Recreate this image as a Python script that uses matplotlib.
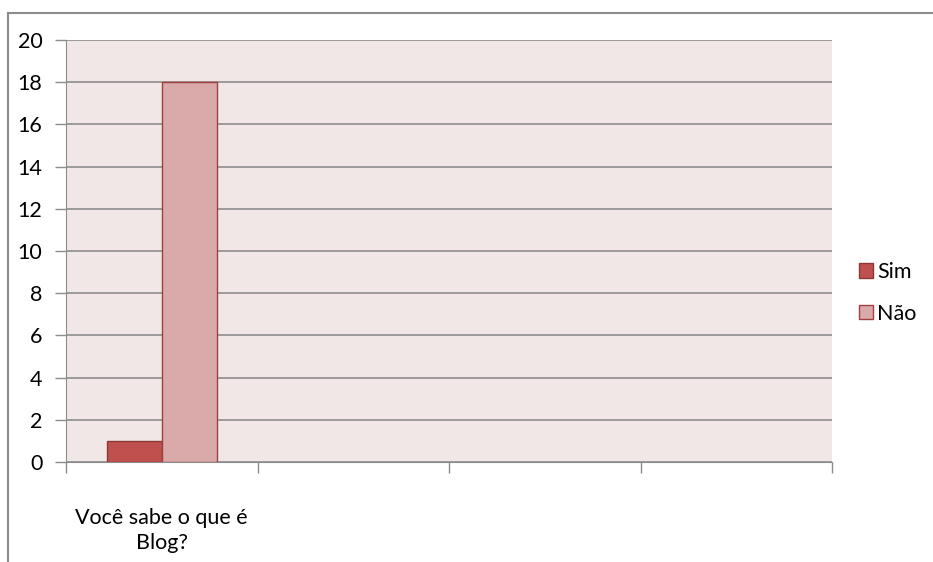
import numpy as np
import matplotlib.pyplot as plt
from matplotlib.lines import Line2D

# chart data
categories = ['Você sabe o que é\nBlog?', '', '', '']
sim = [1, np.nan, np.nan, np.nan]
nao = [18, np.nan, np.nan, np.nan]
series_names = ['Sim', 'Não']
y_ticks = [0, 2, 4, 6, 8, 10, 12, 14, 16, 18, 20]

plt.rcParams['font.family'] = ['Lato', 'DejaVu Sans']
FS = 15.5

fig = plt.figure(figsize=(9.33, 5.62), dpi=100)
ax = fig.add_axes([66/933, 1 - 462/562, (832 - 66)/933, (462 - 40)/562])
ax.set_facecolor('#F2E7E7')

x = np.arange(len(categories))
w = 0.287
ax.bar(x - w/2, sim, w, color='#C0504D', edgecolor='#8C3836', linewidth=1, label=series_names[0], zorder=3)
ax.bar(x + w/2, nao, w, color='#D9AAA9', edgecolor='#A0403E', linewidth=1, label=series_names[1], zorder=3)

ax.set_xlim(-0.5, len(categories) - 0.5)
ax.set_ylim(0, 20)
ax.set_yticks(y_ticks)
ax.tick_params(axis='y', labelsize=FS, length=8, color='#8C8C8C', width=1, pad=9)
ax.yaxis.grid(True, color='#8C8C8C', linewidth=1.2, zorder=1)

ax.set_xticks(np.arange(len(categories) + 1) - 0.5, minor=False)
ax.set_xticklabels([])
ax.tick_params(axis='x', length=8, color='#8C8C8C', width=1)
ax.set_xticks(x, minor=True)
ax.set_xticklabels(categories, minor=True, fontsize=FS, linespacing=1.3)
ax.tick_params(axis='x', which='minor', length=0, pad=33)

for s in ['top', 'right']:
    ax.spines[s].set_visible(False)
ax.spines['left'].set_color('#8C8C8C')
ax.spines['bottom'].set_color('#8C8C8C')

handles = [plt.Rectangle((0, 0), 1, 1, facecolor='#C0504D', edgecolor='#8C3836'),
           plt.Rectangle((0, 0), 1, 1, facecolor='#D9AAA9', edgecolor='#A0403E')]
fig.legend(handles, series_names, loc='center left', bbox_to_anchor=(848/933, 1 - 293/562),
           frameon=False, fontsize=FS, handlelength=0.65, handleheight=0.65,
           handletextpad=0.2, labelspacing=1.0, borderpad=0)

# outer chart border (top and left visible)
fig.add_artist(Line2D([8/933, 1], [1 - 12.5/562, 1 - 12.5/562], color='#8C8C8C', linewidth=1.5))
fig.add_artist(Line2D([8/933, 8/933], [0, 1 - 12.5/562], color='#8C8C8C', linewidth=1.5))

fig.savefig('out.png', dpi=100)
